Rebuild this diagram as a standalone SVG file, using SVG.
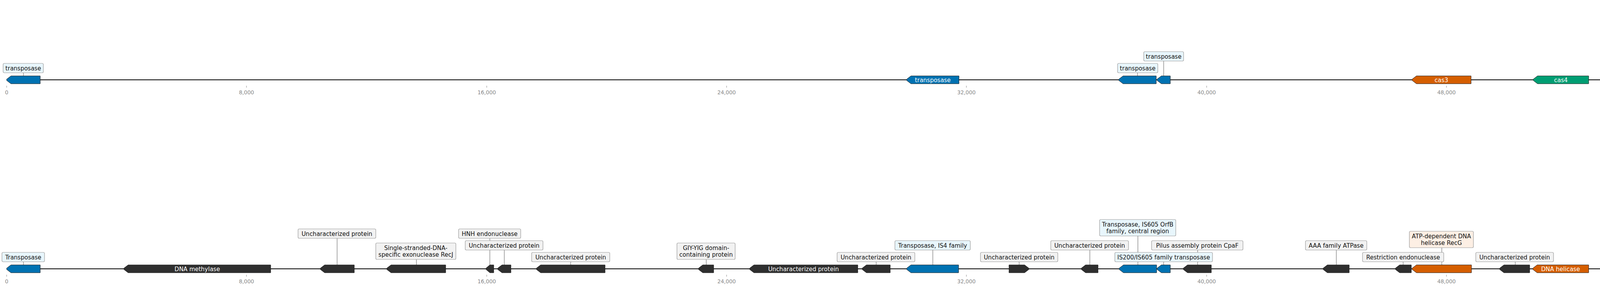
<svg xmlns="http://www.w3.org/2000/svg" width="5504" height="736" viewBox="0 0 5504 736">
<style>
.bg{fill:#fff}
.trk{stroke:#000;stroke-width:2.2}
.g{stroke:#1a1a1a;stroke-width:1}
.blue{fill:#0072b2}.dark{fill:#2f2f2f}.orange{fill:#d55e00}.green{fill:#009e73}.yellow{fill:#e69f00}
.box{fill:#f2f2f2;stroke:#999;stroke-width:1.2}
.bb{fill:#e8f6fc}.bo{fill:#fdefe4}.by{fill:#fff6e4}
.ld{stroke:#555;stroke-width:1}
.tk{stroke:#888;stroke-width:1}
text{font-family:"DejaVu Sans","Liberation Sans",sans-serif;text-anchor:middle}
.t{font-size:15px;fill:#111}
.w{font-size:15px;fill:#fff}
.tl{font-size:13.5px;fill:#888}
</style>
<rect class="bg" x="0" y="0" width="5504" height="736"/>
<g id="axes">
<line class="trk" x1="17" y1="204" x2="5442" y2="204"/>
<line class="trk" x1="17" y1="687" x2="5442" y2="687"/>
<g class="tk">
<line x1="17" y1="219" x2="17" y2="224"/><line x1="631" y1="219" x2="631" y2="224"/><line x1="1246" y1="219" x2="1246" y2="224"/><line x1="1860" y1="219" x2="1860" y2="224"/><line x1="2474" y1="219" x2="2474" y2="224"/><line x1="3089" y1="219" x2="3089" y2="224"/><line x1="3703" y1="219" x2="3703" y2="224"/><line x1="4317" y1="219" x2="4317" y2="224"/><line x1="4932" y1="219" x2="4932" y2="224"/>
<line x1="17" y1="702" x2="17" y2="707"/><line x1="631" y1="702" x2="631" y2="707"/><line x1="1246" y1="702" x2="1246" y2="707"/><line x1="1860" y1="702" x2="1860" y2="707"/><line x1="2474" y1="702" x2="2474" y2="707"/><line x1="3089" y1="702" x2="3089" y2="707"/><line x1="3703" y1="702" x2="3703" y2="707"/><line x1="4317" y1="702" x2="4317" y2="707"/><line x1="4932" y1="702" x2="4932" y2="707"/>
</g>
<g class="tl">
<text x="17" y="241">0</text><text x="631" y="241">8,000</text><text x="1246" y="241">16,000</text><text x="1860" y="241">24,000</text><text x="2474" y="241">32,000</text><text x="3089" y="241">40,000</text><text x="3703" y="241">48,000</text><text x="4317" y="241">56,000</text><text x="4932" y="241">64,000</text>
<text x="17" y="724">0</text><text x="631" y="724">8,000</text><text x="1246" y="724">16,000</text><text x="1860" y="724">24,000</text><text x="2474" y="724">32,000</text><text x="3089" y="724">40,000</text><text x="3703" y="724">48,000</text><text x="4317" y="724">56,000</text><text x="4932" y="724">64,000</text>
</g>
</g>
<g id="connectors" class="ld">
<line x1="60" y1="186" x2="60" y2="194"/>
<line x1="2912" y1="186" x2="2912" y2="194"/>
<line x1="2979" y1="156" x2="2979" y2="194"/>
<line x1="4554" y1="186" x2="4554" y2="194"/>
<line x1="5441" y1="186" x2="5441" y2="194"/>
<line x1="60" y1="669" x2="60" y2="677"/>
<line x1="863" y1="609" x2="863" y2="677"/>
<line x1="1066" y1="663" x2="1066" y2="677"/>
<line x1="1254" y1="609" x2="1254" y2="677"/>
<line x1="1291" y1="639" x2="1291" y2="677"/>
<line x1="1461" y1="669" x2="1461" y2="677"/>
<line x1="1808" y1="663" x2="1808" y2="677"/>
<line x1="2243" y1="669" x2="2243" y2="677"/>
<line x1="2388" y1="639" x2="2388" y2="677"/>
<line x1="2609" y1="669" x2="2609" y2="677"/>
<line x1="2790" y1="639" x2="2790" y2="677"/>
<line x1="2913" y1="603" x2="2913" y2="677"/>
<line x1="2979" y1="669" x2="2979" y2="677"/>
<line x1="3066" y1="639" x2="3066" y2="677"/>
<line x1="3421" y1="639" x2="3421" y2="677"/>
<line x1="3592" y1="669" x2="3592" y2="677"/>
<line x1="3691" y1="633" x2="3691" y2="677"/>
<line x1="3879" y1="669" x2="3879" y2="677"/>
<line x1="4333" y1="639" x2="4333" y2="647"/>
<line x1="4354" y1="603" x2="4354" y2="677"/>
<line x1="4554" y1="669" x2="4554" y2="677"/>
</g>
<!-- top track -->
<g id="top-transposase-1"><polygon class="g blue" points="17,202.5 28,194 103,194 103,214 28,214 17,205.5"/><rect class="box bb" x="8" y="162" width="103" height="24" rx="3"/><text class="t" x="59.5" y="179.5">transposase</text></g>
<g id="top-transposase-2"><polygon class="g blue" points="2321,202.5 2332,194 2455,194 2455,214 2332,214 2321,205.5"/><text class="w" x="2388" y="209.5">transposase</text></g>
<g id="top-transposase-3"><polygon class="g blue" points="2864,202.5 2875,194 2960,194 2960,214 2875,214 2864,205.5"/><rect class="box bb" x="2861" y="162" width="103" height="24" rx="3"/><text class="t" x="2912.5" y="179.5">transposase</text></g>
<g id="top-transposase-4"><polygon class="g blue" points="2962,202.5 2973,194 2996,194 2996,214 2973,214 2962,205.5"/><rect class="box bb" x="2928" y="132" width="102" height="24" rx="3"/><text class="t" x="2979" y="149.5">transposase</text></g>
<g id="top-cas3"><polygon class="g orange" points="3615,202.5 3626,194 3766,194 3766,214 3626,214 3615,205.5"/><text class="w" x="3690" y="209.5">cas3</text></g>
<g id="top-cas4"><polygon class="g green" points="3925,202.5 3936,194 4067,194 4067,214 3936,214 3925,205.5"/><text class="w" x="3996" y="209.5">cas4</text></g>
<g id="top-crispr-array"><rect class="g yellow" x="4543" y="194" width="22" height="20"/><rect class="box by" x="4487" y="162" width="135" height="24" rx="3"/><text class="t" x="4554.5" y="179.5">CRISPR array (5)</text></g>
<g id="top-cas12"><polygon class="g orange" points="4579,202.5 4590,194 4869,194 4869,214 4590,214 4579,205.5"/><text class="w" x="4724" y="209.5">cas12</text></g>
<g id="top-crispr-target"><line x1="5441" y1="194" x2="5441" y2="214" stroke="#000" stroke-width="1.5"/><rect class="box" x="5384" y="162" width="113" height="24" rx="3"/><text class="t" x="5440.5" y="179.5">CRISPR target</text></g>
<!-- bottom track -->
<g id="b-transposase"><polygon class="g blue" points="17,685.5 28,677 103,677 103,697 28,697 17,688.5"/><rect class="box bb" x="5" y="645" width="109" height="24" rx="3"/><text class="t" x="59.5" y="662.5">Transposase</text></g>
<g id="b-dna-methylase"><polygon class="g dark" points="317,685.5 328,677 693,677 693,697 328,697 317,688.5"/><text class="w" x="505" y="692.5">DNA methylase</text></g>
<g id="b-unchar-1"><polygon class="g dark" points="820,685.5 831,677 907,677 907,697 831,697 820,688.5"/><rect class="box" x="763" y="585" width="199" height="24" rx="3"/><text class="t" x="862.5" y="602.5">Uncharacterized protein</text></g>
<g id="b-recj"><polygon class="g dark" points="990,685.5 1001,677 1141,677 1141,697 1001,697 990,688.5"/><rect class="box" x="962" y="621" width="205" height="42" rx="3"/><text class="t" x="1064.5" y="638.5">Single-stranded-DNA-</text><text class="t" x="1064.5" y="656">specific exonuclease RecJ</text></g>
<g id="b-hnh"><polygon class="g dark" points="1244,685.5 1254,677 1264,677 1264,697 1254,697 1244,688.5"/><rect class="box" x="1174" y="585" width="159" height="24" rx="3"/><text class="t" x="1253.5" y="602.5">HNH endonuclease</text></g>
<g id="b-unchar-2"><polygon class="g dark" points="1274,685.5 1285,677 1308,677 1308,697 1285,697 1274,688.5"/><rect class="box" x="1191" y="615" width="199" height="24" rx="3"/><text class="t" x="1290.5" y="632.5">Uncharacterized protein</text></g>
<g id="b-unchar-3"><polygon class="g dark" points="1373,685.5 1384,677 1549,677 1549,697 1384,697 1373,688.5"/><rect class="box" x="1361" y="645" width="200" height="24" rx="3"/><text class="t" x="1461" y="662.5">Uncharacterized protein</text></g>
<g id="b-giy-yig"><polygon class="g dark" points="1788,685.5 1799,677 1827,677 1827,697 1799,697 1788,688.5"/><rect class="box" x="1733" y="621" width="149" height="42" rx="3"/><text class="t" x="1807.5" y="638.5">GIY-YIG domain-</text><text class="t" x="1807.5" y="656">containing protein</text></g>
<g id="b-unchar-4"><polygon class="g dark" points="1919,685.5 1930,677 2196,677 2196,697 1930,697 1919,688.5"/><text class="w" x="2057" y="692.5">Uncharacterized protein</text></g>
<g id="b-unchar-5"><polygon class="g dark" points="2207,685.5 2218,677 2279,677 2279,697 2218,697 2207,688.5"/><rect class="box" x="2143" y="645" width="199" height="24" rx="3"/><text class="t" x="2242.5" y="662.5">Uncharacterized protein</text></g>
<g id="b-is4"><polygon class="g blue" points="2321,685.5 2332,677 2454,677 2454,697 2332,697 2321,688.5"/><rect class="box bb" x="2291" y="615" width="193" height="24" rx="3"/><text class="t" x="2387.5" y="632.5">Transposase, IS4 family</text></g>
<g id="b-unchar-6"><polygon class="g dark" points="2583,677 2623,677 2634,685.5 2634,688.5 2623,697 2583,697"/><rect class="box" x="2510" y="645" width="198" height="24" rx="3"/><text class="t" x="2609" y="662.5">Uncharacterized protein</text></g>
<g id="b-unchar-7"><polygon class="g dark" points="2768,685.5 2779,677 2811,677 2811,697 2779,697 2768,688.5"/><rect class="box" x="2690" y="615" width="199" height="24" rx="3"/><text class="t" x="2789.5" y="632.5">Uncharacterized protein</text></g>
<g id="b-is605-orfb"><polygon class="g blue" points="2865,685.5 2876,677 2961,677 2961,697 2876,697 2865,688.5"/><rect class="box bb" x="2815" y="561" width="195" height="42" rx="3"/><text class="t" x="2912.5" y="578.5">Transposase, IS605 OrfB</text><text class="t" x="2912.5" y="596">family, central region</text></g>
<g id="b-pilus"><polygon class="g dark" points="3029,685.5 3040,677 3101,677 3101,697 3040,697 3029,688.5"/><rect class="box" x="2948" y="615" width="234" height="24" rx="3"/><text class="t" x="3065" y="632.5">Pilus assembly protein CpaF</text></g>
<g id="b-is200"><polygon class="g blue" points="2962,685.5 2973,677 2996,677 2996,697 2973,697 2962,688.5"/><rect class="box bb" x="2854" y="645" width="250" height="24" rx="3"/><text class="t" x="2979" y="662.5">IS200/IS605 family transposase</text></g>
<g id="b-aaa"><polygon class="g dark" points="3387,685.5 3398,677 3454,677 3454,697 3398,697 3387,688.5"/><rect class="box" x="3342" y="615" width="157" height="24" rx="3"/><text class="t" x="3420.5" y="632.5">AAA family ATPase</text></g>
<g id="b-restriction"><polygon class="g dark" points="3572,685.5 3583,677 3613,677 3613,697 3583,697 3572,688.5"/><rect class="box" x="3488" y="645" width="208" height="24" rx="3"/><text class="t" x="3592" y="662.5">Restriction endonuclease</text></g>
<g id="b-recg"><polygon class="g orange" points="3615,685.5 3626,677 3767,677 3767,697 3626,697 3615,688.5"/><rect class="box bo" x="3608" y="591" width="164" height="42" rx="3"/><text class="t" x="3690" y="608.5">ATP-dependent DNA</text><text class="t" x="3690" y="626">helicase RecG</text></g>
<g id="b-unchar-8"><polygon class="g dark" points="3839,685.5 3850,677 3916,677 3916,697 3850,697 3839,688.5"/><rect class="box" x="3778" y="645" width="199" height="24" rx="3"/><text class="t" x="3877.5" y="662.5">Uncharacterized protein</text></g>
<g id="b-dna-helicase"><polygon class="g orange" points="3924,685.5 3935,677 4067,677 4067,697 3935,697 3924,688.5"/><text class="w" x="3995" y="692.5">DNA helicase</text></g>
<g id="b-dna-pol"><polygon class="g dark" points="4219,685.5 4230,677 4490,677 4490,697 4230,697 4219,688.5"/><rect class="box" x="4285" y="561" width="138" height="42" rx="3"/><text class="t" x="4354" y="578.5">DNA polymerase</text><text class="t" x="4354" y="596">III subunit alpha</text></g>
<g id="b-unchar-9"><polygon class="g dark" points="4306,647 4347,647 4358,655.5 4358,658.5 4347,667 4306,667"/><rect class="box" x="4233" y="615" width="199" height="24" rx="3"/><text class="t" x="4332.5" y="632.5">Uncharacterized protein</text></g>
<g id="b-array"><polygon class="g yellow" points="4542,677 4554,677 4565,685.5 4565,688.5 4554,697 4542,697"/><rect class="box by" x="4529" y="645" width="50" height="24" rx="3"/><text class="t" x="4554" y="662.5">array</text></g>
<g id="b-cpf1"><polygon class="g dark" points="4579,685.5 4590,677 4870,677 4870,697 4590,697 4579,688.5"/><text class="w" x="4724" y="692.5">CRISPR-associated protein Cpf1</text></g>
</svg>
